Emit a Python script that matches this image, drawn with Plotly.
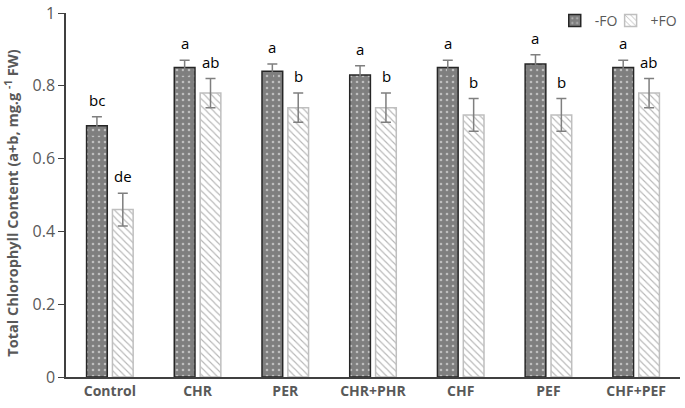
import plotly.graph_objects as go

categories = ["Control", "CHR", "PER", "CHR+PHR", "CHF", "PEF", "CHF+PEF"]
minus_fo = [0.69, 0.85, 0.84, 0.83, 0.85, 0.86, 0.85]
minus_fo_err = [0.025, 0.02, 0.02, 0.025, 0.02, 0.025, 0.02]
plus_fo = [0.46, 0.78, 0.74, 0.74, 0.72, 0.72, 0.78]
plus_fo_err = [0.045, 0.04, 0.04, 0.04, 0.045, 0.045, 0.04]
minus_letters = ["bc", "a", "a", "a", "a", "a", "a"]
plus_letters = ["de", "ab", "b", "b", "b", "b", "ab"]
y_ticks = [0, 0.2, 0.4, 0.6, 0.8, 1]
y_tick_labels = ["0", "0.2", "0.4", "0.6", "0.8", "1"]
y_title = "Total Chlorophyll Content (a+b, mg.g <sup>-1</sup> FW)"

FONT = "Open Sans, Liberation Sans, sans-serif"
GRAY = "#595959"

fig = go.Figure()
fig.add_trace(go.Bar(
    name="-FO", x=categories, y=minus_fo, legend="legend",
    marker=dict(color="#7f7f7f", line=dict(color="#262626", width=1.5),
                pattern=dict(shape=".", fgcolor="white", size=6, solidity=0.15)),
    error_y=dict(type="data", array=minus_fo_err, color="#7f7f7f", thickness=1.5, width=5),
))
fig.add_trace(go.Bar(
    name="+FO", x=categories, y=plus_fo, legend="legend2",
    marker=dict(color="white", line=dict(color="#bfbfbf", width=1.5),
                pattern=dict(shape="\\", fgcolor="#6e6e6e", size=5, solidity=0.22)),
    error_y=dict(type="data", array=plus_fo_err, color="#7f7f7f", thickness=1.5, width=5),
))

for i, c in enumerate(categories):
    fig.add_annotation(x=c, y=minus_fo[i] + minus_fo_err[i], text=minus_letters[i],
                       xshift=-13, yshift=5, yanchor="bottom", showarrow=False,
                       font=dict(family=FONT, size=15, color="black"))
    fig.add_annotation(x=c, y=plus_fo[i] + plus_fo_err[i], text=plus_letters[i],
                       xshift=13, yshift=5, yanchor="bottom", showarrow=False,
                       font=dict(family=FONT, size=15, color="black"))

fig.add_annotation(xref="paper", yref="paper", x=-0.089, y=0.477, xanchor="center",
                   yanchor="middle", textangle=-90, showarrow=False, text=y_title,
                   font=dict(family=FONT, size=14.5, color=GRAY, weight="bold"))

legend_common = dict(orientation="v", yanchor="middle", y=0.978, xanchor="left",
                     font=dict(family=FONT, size=14, color=GRAY),
                     bgcolor="rgba(0,0,0,0)", borderwidth=0, itemwidth=30)

fig.update_layout(
    width=685, height=408,
    margin=dict(l=66, r=2, t=10, b=31),
    paper_bgcolor="white", plot_bgcolor="white",
    barmode="group", bargap=0.41, bargroupgap=0.2,
    font=dict(family=FONT, color=GRAY),
    showlegend=True,
    legend=dict(x=0.796, **legend_common),
    legend2=dict(x=0.887, **legend_common),
)
fig.update_xaxes(showline=True, linecolor="#404040", linewidth=1.5,
                 tickfont=dict(family=FONT, size=14, color=GRAY, weight="bold"),
                 ticks="", showgrid=False)
fig.update_yaxes(range=[0, 1], tickvals=y_ticks, ticktext=y_tick_labels,
                 showline=True, linecolor="#404040", linewidth=1.5,
                 ticks="outside", ticklen=6, tickcolor="#404040",
                 tickfont=dict(family=FONT, size=16, color=GRAY),
                 ticklabeloverflow="allow",
                 showgrid=False, zeroline=False)

fig.write_html("out.html", config={"displayModeBar": False},
               post_script="document.body.style.margin='0';")
